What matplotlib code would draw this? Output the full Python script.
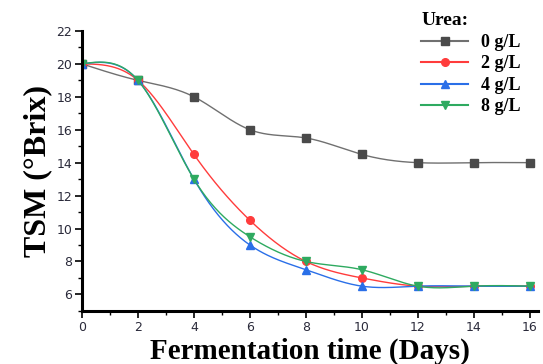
import numpy as np
import matplotlib
matplotlib.use("Agg")
import matplotlib.pyplot as plt
from matplotlib.ticker import MultipleLocator

days = [0, 2, 4, 6, 8, 10, 12, 14, 16]
urea_0 = [20, 19, 18, 16, 15.5, 14.5, 14, 14, 14]
urea_2 = [20, 19, 14.5, 10.5, 8, 7, 6.5, 6.5, 6.5]
urea_4 = [20, 19, 13, 9, 7.5, 6.5, 6.5, 6.5, 6.5]
urea_8 = [20, 19, 13, 9.5, 8, 7.5, 6.5, 6.5, 6.5]
labels = ["0 g/L", "2 g/L", "4 g/L", "8 g/L"]


def natural_spline(x, y, n=300):
    x = np.asarray(x, float); y = np.asarray(y, float)
    k = len(x); h = np.diff(x)
    A = np.zeros((k, k)); b = np.zeros(k)
    A[0, 0] = A[-1, -1] = 1
    for i in range(1, k - 1):
        A[i, i - 1] = h[i - 1]; A[i, i] = 2 * (h[i - 1] + h[i]); A[i, i + 1] = h[i]
        b[i] = 3 * ((y[i + 1] - y[i]) / h[i] - (y[i] - y[i - 1]) / h[i - 1])
    c = np.linalg.solve(A, b)
    xs = np.linspace(x[0], x[-1], n)
    idx = np.clip(np.searchsorted(x, xs) - 1, 0, k - 2)
    dx = xs - x[idx]
    bb = (y[1:] - y[:-1]) / h - h * (2 * c[:-1] + c[1:]) / 3
    d = (c[1:] - c[:-1]) / (3 * h)
    ys = y[idx] + bb[idx] * dx + c[idx] * dx ** 2 + d[idx] * dx ** 3
    return xs, ys


fig = plt.figure(figsize=(5.43, 3.64), dpi=100)
ax = fig.add_axes([0.151, 0.146, 0.840, 0.769])

series = [urea_0, urea_2, urea_4, urea_8]
line_colors = ["#707070", "#ff3c3c", "#2a6fe8", "#2eaa60"]
mk_colors = ["#4a4a4a", "#ff3c3c", "#2a6fe8", "#2eaa60"]
markers = ["s", "o", "^", "v"]
for ys_, lc, mc, m, lab in zip(series, line_colors, mk_colors, markers, labels):
    sx, sy = natural_spline(days, ys_)
    ax.plot(sx, sy, color=lc, lw=1.0)
    ax.plot(days, ys_, linestyle="none", marker=m, color=mc, ms=5.5)
    ax.plot([], [], color=lc, lw=1.5, marker=m, mfc=mc, mec=mc, ms=5.5, label=lab)

ax.set_xlim(0, 16.3)
ax.set_ylim(5, 22)
ax.xaxis.set_major_locator(MultipleLocator(2))
ax.xaxis.set_minor_locator(MultipleLocator(1))
ax.yaxis.set_major_locator(MultipleLocator(2))
ax.yaxis.set_minor_locator(MultipleLocator(1))
ax.set_yticks(range(6, 23, 2))
for s in ["top", "right"]:
    ax.spines[s].set_visible(False)
for s in ["left", "bottom"]:
    ax.spines[s].set_linewidth(2.2)
ax.tick_params(which="major", direction="out", length=5, width=1.2, labelsize=9,
               labelcolor="#2a2a3a", pad=2)
ax.tick_params(which="minor", direction="out", length=3, width=1.0)
for t in ax.get_xticklabels() + ax.get_yticklabels():
    t.set_fontfamily("DejaVu Sans")

ax.set_xlabel("Fermentation time (Days)", family="Liberation Serif", weight="bold",
              fontsize=21, labelpad=3)
ax.set_ylabel("TSM (°Brix)", family="Liberation Serif", weight="bold",
              fontsize=23, labelpad=3)

leg = ax.legend(title="Urea:", loc="upper right", bbox_to_anchor=(0.985, 1.105),
                frameon=False, prop={"family": "Liberation Serif", "weight": "bold", "size": 13},
                handlelength=2.6, labelspacing=0.25, borderaxespad=0.2, handletextpad=0.7)
leg.get_title().set_fontfamily("Liberation Serif")
leg.get_title().set_fontweight("bold")
leg.get_title().set_fontsize(14)
leg._legend_box.align = "left"

fig.savefig("out.png", dpi=100)
